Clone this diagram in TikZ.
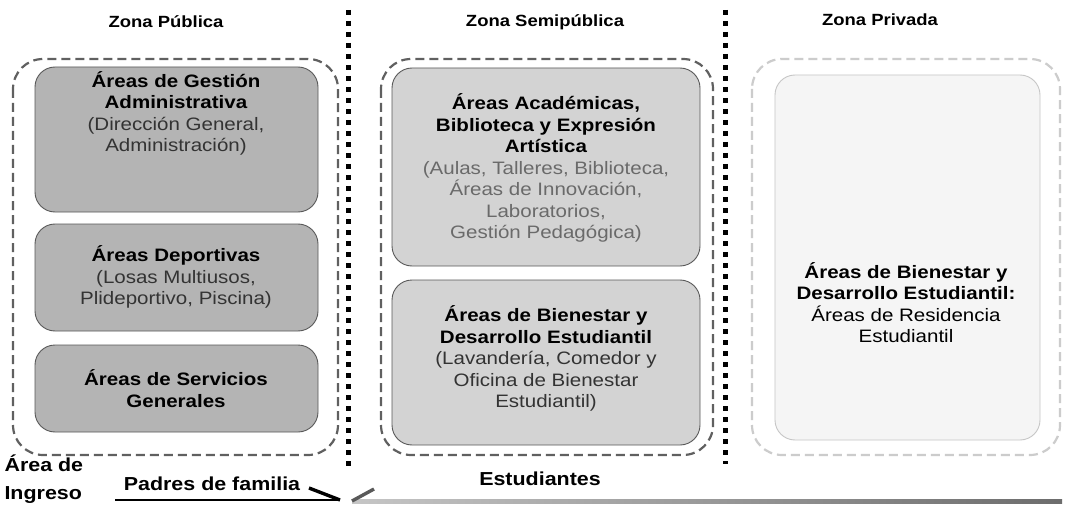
\documentclass[tikz,border=0pt]{standalone}
\usepackage{fontspec}
\setmainfont[FakeStretch=1.14]{Liberation Sans}
\usetikzlibrary{arrows.meta}
\definecolor{boxA}{HTML}{B4B4B4}
\definecolor{boxB}{HTML}{D3D3D3}
\definecolor{boxC}{HTML}{F5F5F5}
\definecolor{txtgray}{HTML}{6A6A6A}
\tikzset{
  zonetitle/.style={font=\bfseries\fontsize{16.2}{20}\selectfont, anchor=center},
  outerzone/.style={draw=#1, line width=2.2pt, dash pattern=on 9pt off 5pt, rounded corners=30pt},
  areabox/.style={draw=gray!70!black, line width=0.9pt, fill=#1, rounded corners=20pt},
  boxtext/.style={align=center, font=\fontsize{18}{21.5}\selectfont, anchor=center},
  sep/.style={line width=5pt, dash pattern=on 5pt off 6pt},
  lbl/.style={font=\bfseries\fontsize{18.8}{28}\selectfont, align=left},
  flowlbl/.style={font=\bfseries\fontsize{18.8}{22}\selectfont}
}
\begin{document}
\begin{tikzpicture}[x=1pt,y=-1pt]
\useasboundingbox[fill=white] (0,0) rectangle (1066,508);
% separators
\coordinate (s1a) at (348,10); \coordinate (s1b) at (348,470);
\coordinate (s2a) at (725,10); \coordinate (s2b) at (725,464);
\draw[sep] (s1a) -- (s1b);
\draw[sep] (s2a) -- (s2b);
% titles
\node[zonetitle] (t1) at (166,22) {Zona Pública};
\node[zonetitle] (t2) at (545,22) {Zona Semipública};
\node[zonetitle] (t3) at (880,20) {Zona Privada};
% outer zones
\draw[outerzone=gray!75!black] (13,59) rectangle (338,455);
\draw[outerzone=gray!75!black] (381,59) rectangle (713,455);
\draw[outerzone=gray!40] (752,59) rectangle (1060,455);
% zone 1 boxes
\draw[areabox=boxA] (35,67) rectangle (318,212);
\draw[areabox=boxA] (35,224) rectangle (318,331);
\draw[areabox=boxA] (35,345) rectangle (318,432);
\node[boxtext] (a1) at (176,113.5) {\textbf{Áreas de Gestión}\\\textbf{Administrativa}\\{\color{black!80}(Dirección General,}\\{\color{black!80}Administración)}};
\node[boxtext] (a2) at (176,277) {\textbf{Áreas Deportivas}\\{\color{black!80}(Losas Multiusos,}\\{\color{black!80}Plideportivo, Piscina)}};
\node[boxtext] (a3) at (176,388.5) {\textbf{Áreas de Servicios}\\\textbf{Generales}};
% zone 2 boxes
\draw[areabox=boxB] (392,68) rectangle (700,266);
\draw[areabox=boxB] (392,280) rectangle (700,445);
\node[boxtext] (b1) at (546,168) {\textbf{Áreas Académicas,}\\\textbf{Biblioteca y Expresión}\\\textbf{Artística}\\{\color{txtgray}(Aulas, Talleres, Biblioteca,}\\{\color{txtgray}Áreas de Innovación,}\\{\color{txtgray}Laboratorios,}\\{\color{txtgray}Gestión Pedagógica)}};
\node[boxtext] (b2) at (546,358.5) {\textbf{Áreas de Bienestar y}\\\textbf{Desarrollo Estudiantil}\\{\color{black!80}(Lavandería, Comedor y}\\{\color{black!80}Oficina de Bienestar}\\{\color{black!80}Estudiantil)}};
% zone 3 box
\draw[draw=gray!45, line width=0.9pt, fill=boxC, rounded corners=20pt] (775,75) rectangle (1040,440);
\node[boxtext] (c1) at (906,302.5) {\textbf{Áreas de Bienestar y}\\\textbf{Desarrollo Estudiantil:}\\Áreas de Residencia\\Estudiantil};
% bottom labels
\node[lbl, anchor=west] (ing) at (1,479) {Área de\\Ingreso};
\node[flowlbl] (pad) at (212,484) {Padres de familia};
\node[flowlbl] (est) at (540,479) {Estudiantes};
% flows
\coordinate (p0) at (115,500);
\coordinate (p1) at (340,500);
\coordinate (ph) at (309,488);
\coordinate (e0) at (1062,501);
\coordinate (e1) at (352,501);
\coordinate (eh) at (374,489);
\draw[line width=2.2pt] (p0) -- (p1);
\draw[line width=3.4pt] (ph) -- (p1);
\shade[left color=gray!45, right color=gray!85!black] (352,499) rectangle (1062,503);
\draw[line width=3.4pt, gray!70!black] (eh) -- (e1);
\end{tikzpicture}
\end{document}
